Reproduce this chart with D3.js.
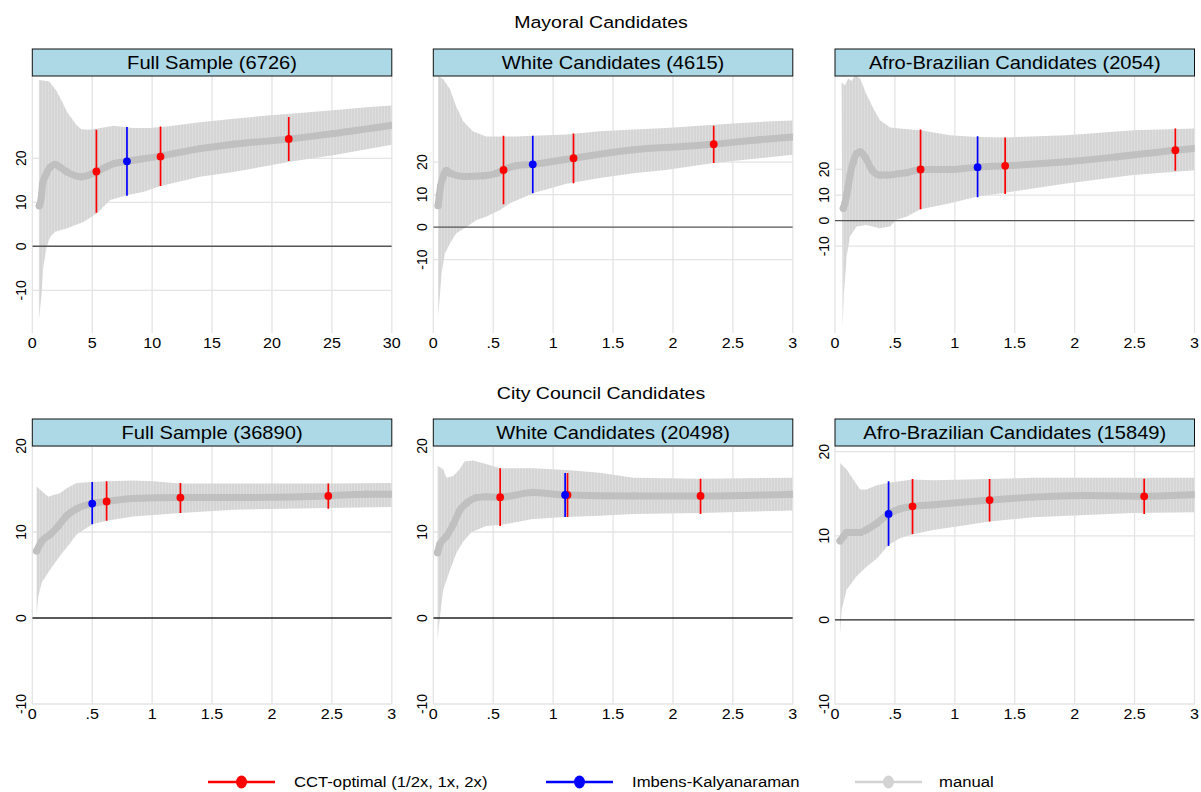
<!DOCTYPE html>
<html>
<head>
<meta charset="utf-8">
<script src="https://cdn.jsdelivr.net/npm/d3@7"></script>
<style>
body{margin:0;background:#fff}
svg{display:block;font-family:"Liberation Sans",Arial,sans-serif}
</style>
</head>
<body>
<svg id="mainsvg" width="1201" height="792"></svg>
<script>
// ---- data (bandwidth, value) ----
const rowTitles = ['Mayoral Candidates', 'City Council Candidates']
const stripTitles = [
  'Full Sample (6726)', 'White Candidates (4615)', 'Afro-Brazilian Candidates (2054)',
  'Full Sample (36890)', 'White Candidates (20498)', 'Afro-Brazilian Candidates (15849)'
]
const xTicksWide = [0, 5, 10, 15, 20, 25, 30]
const xTicksNarrow = [0, 0.5, 1, 1.5, 2, 2.5, 3]
const yTicks = [-10, 0, 10, 20]
const legendLabels = ['CCT-optimal (1/2x, 1x, 2x)', 'Imbens-Kalyanaraman', 'manual']

// mayoral, full sample
const mayorFullEst = [[0.58,9.2],[0.78,11.8],[0.86,14.3],[1.06,15.8],[1.5,18],[1.9,18.6],[2.3,18],[2.9,16.9],[4.1,15.8],[5.4,17],[6.8,18.8],[7.9,19.3],[10.7,20.5],[14,22.2],[16.8,23.2],[21.5,24.4],[25.1,25.6],[30,27.5]]
const mayorFullHi = [[0.55,37.8],[1.4,37.5],[2.0,35.4],[2.45,33.1],[2.9,30.5],[3.7,27.5],[4.1,26.6],[4.8,26.5],[6.2,27.1],[6.8,27.4],[8.4,26.9],[9.8,26.9],[11.2,27.2],[14,28.2],[16.8,29],[19.6,29.7],[22.3,30.3],[25.1,30.9],[27.9,31.6],[30,32]]
const mayorFullLo = [[0.55,-17],[0.78,-10.6],[0.92,-4.6],[1.2,-0.1],[1.5,2.2],[1.9,3.3],[2.9,4.1],[4.3,5.6],[5.4,7.5],[6.5,10.5],[7.9,11.6],[9.3,12.4],[10.7,13.7],[14,15.8],[16.8,16.9],[21.5,19.2],[25.1,20.7],[30,23.1]]
const mayorFullCCT = [[5.35,17,7.6,26.5],[10.7,20.4,13.7,27.2],[21.4,24.4,19.4,29.4]]
const mayorFullIK = [[7.9,19.3,11.5,27.1]]

// mayoral, white
const mayorWhiteEst = [[0.04,6.6],[0.05,9.7],[0.06,12.5],[0.083,15.6],[0.11,17.4],[0.14,16.6],[0.25,15.6],[0.42,15.8],[0.53,16.6],[0.586,17.6],[0.69,18.9],[0.83,19.3],[1.17,21.2],[1.67,23.8],[2.08,24.8],[2.34,25.5],[2.72,26.9],[3.0,27.7]]
const mayorWhiteHi = [[0.04,46.5],[0.083,45.5],[0.14,42.4],[0.19,37.2],[0.25,32.6],[0.33,29.5],[0.44,27.9],[0.69,27.9],[0.83,28.1],[1.11,28.5],[1.39,29.5],[1.67,30],[1.94,30.5],[2.22,31.2],[2.5,31.9],[2.78,32.5],[3.0,32.8]]
const mayorWhiteLo = [[0.04,-27.7],[0.056,-20.5],[0.069,-14.3],[0.097,-8.1],[0.14,-5],[0.19,-2],[0.28,0.1],[0.36,2.2],[0.44,3.2],[0.56,5.3],[0.64,7.3],[0.78,9.6],[0.83,10.4],[1.11,13.3],[1.39,15.1],[1.67,16.6],[1.94,17.6],[2.34,19.7],[3.0,22.3]]
const mayorWhiteCCT = [[0.586,17.6,7.0,28.1],[1.17,21.2,13.5,28.8],[2.34,25.5,19.7,31.2]]
const mayorWhiteIK = [[0.83,19.3,10.4,28.1]]

// mayoral, afro-brazilian
const mayorAfroEst = [[0.069,4.8],[0.083,6.8],[0.097,10],[0.11,13.2],[0.125,17.8],[0.153,23],[0.18,26.2],[0.21,26.9],[0.25,24.9],[0.31,19.7],[0.375,17.8],[0.43,17.8],[0.54,18.4],[0.6,18.7],[0.714,20],[0.96,20],[1.19,20.9],[1.42,21.4],[1.93,23],[2.35,24.9],[2.84,27.5],[3.0,28.2]]
const mayorAfroHi = [[0.055,54],[0.083,52.9],[0.11,55.5],[0.14,54.5],[0.167,56.8],[0.21,55.5],[0.26,49.6],[0.32,43.8],[0.375,39.2],[0.46,36.4],[0.54,36],[0.714,35.3],[0.96,33.4],[1.19,32.7],[1.42,32.5],[1.93,33.4],[2.49,35.3],[3.0,36]]
const mayorAfroLo = [[0.064,-41.3],[0.075,-28.3],[0.097,-14],[0.125,-6.2],[0.18,-2.3],[0.26,-1.7],[0.375,-3],[0.46,-2.3],[0.51,0.3],[0.6,1.6],[0.714,4.4],[0.96,6.8],[1.19,9.4],[1.42,10.9],[1.93,14.5],[2.49,17.8],[3.0,19.7]]
const mayorAfroCCT = [[0.714,20,4.4,35.6],[1.42,21.4,10.4,32.5],[2.84,27.5,19.5,36]]
const mayorAfroIK = [[1.19,20.9,9.1,33]]

// city council, full sample
const councilFullEst = [[0.036,7.8],[0.078,8.9],[0.148,9.7],[0.217,10.7],[0.287,11.9],[0.37,12.7],[0.5,13.3],[0.62,13.55],[0.84,13.9],[1.236,14],[1.68,14],[2.47,14.2],[2.79,14.4],[3.0,14.4]]
const councilFullHi = [[0.036,15.3],[0.092,14.6],[0.134,14.1],[0.175,14.3],[0.23,14.5],[0.287,15.1],[0.37,15.7],[0.5,15.8],[0.62,15.9],[0.84,16],[1.01,15.9],[1.236,15.65],[1.68,15.65],[2.47,15.65],[3.0,15.7]]
const councilFullLo = [[0.036,0.4],[0.05,2.5],[0.078,4.1],[0.148,5.6],[0.23,7.2],[0.315,8.7],[0.37,9.7],[0.5,10.9],[0.62,11.3],[0.84,11.8],[1.236,12.2],[1.68,12.6],[2.47,12.8],[3.0,12.9]]
const councilFullCCT = [[0.62,13.55,11.3,15.9],[1.236,14,12.2,15.7],[2.47,14.2,12.7,15.65]]
const councilFullIK = [[0.5,13.3,10.9,15.8]]

// city council, white
const councilWhiteEst = [[0.036,7.6],[0.056,8.6],[0.11,9.5],[0.167,10.9],[0.22,12.5],[0.28,13.4],[0.36,14],[0.44,14.1],[0.558,14.05],[0.83,14.6],[1.1,14.3],[1.67,14.2],[2.23,14.2],[3.0,14.4]]
const councilWhiteHi = [[0.036,17.7],[0.083,17.3],[0.11,16.3],[0.167,16.5],[0.22,17.3],[0.26,18.2],[0.33,18.3],[0.44,17.9],[0.558,17.4],[0.83,17.4],[1.11,17.2],[1.39,16.9],[1.67,16.3],[2.23,16.2],[3.0,16.3]]
const councilWhiteLo = [[0.036,-2.5],[0.056,0.2],[0.083,3.3],[0.14,5.6],[0.194,7.6],[0.25,8.9],[0.32,10],[0.44,10.7],[0.558,10.8],[0.83,11.5],[1.11,11.75],[1.39,11.9],[1.67,12.1],[2.23,12.2],[3.0,12.5]]
const councilWhiteCCT = [[0.558,14.05,10.7,17.4],[1.12,14.3,11.75,16.85],[2.23,14.2,12.1,16.2]]
const councilWhiteIK = [[1.10,14.3,11.75,16.85]]

// city council, afro-brazilian
const councilAfroEst = [[0.042,9.4],[0.07,9.9],[0.097,10.4],[0.21,10.4],[0.26,10.7],[0.35,11.5],[0.447,12.6],[0.54,13.2],[0.647,13.5],[0.82,13.7],[1.29,14.25],[1.65,14.6],[2.07,14.8],[2.58,14.7],[3.0,14.9]]
const councilAfroHi = [[0.042,18.65],[0.097,17.9],[0.153,16.7],[0.21,15.5],[0.26,15.5],[0.35,16],[0.447,16.3],[0.647,16.7],[0.82,16.6],[1.1,16.7],[1.65,16.9],[2.49,16.9],[3.0,16.9]]
const councilAfroLo = [[0.042,-1.8],[0.056,1.2],[0.097,3.6],[0.18,5.2],[0.26,6.3],[0.35,7.3],[0.447,8.9],[0.54,9.7],[0.647,10.2],[0.82,10.7],[1.1,11.3],[1.29,11.7],[1.65,12.2],[2.49,12.7],[3.0,12.8]]
const councilAfroCCT = [[0.647,13.5,10.2,16.75],[1.29,14.25,11.7,16.75],[2.58,14.7,12.6,16.8]]
const councilAfroIK = [[0.447,12.6,8.8,16.5]]

// ---- layout ----
const colLeft = [32.3, 433.3, 835]
const plotW = 359.5
const stripTop = [49, 419]
const plotTop = [76, 446]
const plotBottom = [333, 704]
const sx = 1.15   // the source text is a little wide
const red = '#ff0000', blue = '#0000ff', bandCol = '#d5d5d5', estCol = '#c0c0c0'

const panels = [
  {r:0, c:0, xTicks:xTicksWide, xMax:30, yDom:[-19.7,38.7], est:mayorFullEst, hi:mayorFullHi, lo:mayorFullLo, cct:mayorFullCCT, ik:mayorFullIK},
  {r:0, c:1, xTicks:xTicksNarrow, xMax:3, yDom:[-32.6,46.5], est:mayorWhiteEst, hi:mayorWhiteHi, lo:mayorWhiteLo, cct:mayorWhiteCCT, ik:mayorWhiteIK},
  {r:0, c:2, xTicks:xTicksNarrow, xMax:3, yDom:[-43.9,56.5], est:mayorAfroEst, hi:mayorAfroHi, lo:mayorAfroLo, cct:mayorAfroCCT, ik:mayorAfroIK},
  {r:1, c:0, xTicks:xTicksNarrow, xMax:3, yDom:[-10,20], est:councilFullEst, hi:councilFullHi, lo:councilFullLo, cct:councilFullCCT, ik:councilFullIK},
  {r:1, c:1, xTicks:xTicksNarrow, xMax:3, yDom:[-10,20], est:councilWhiteEst, hi:councilWhiteHi, lo:councilWhiteLo, cct:councilWhiteCCT, ik:councilWhiteIK},
  {r:1, c:2, xTicks:xTicksNarrow, xMax:3, yDom:[-10,20.68], est:councilAfroEst, hi:councilAfroHi, lo:councilAfroLo, cct:councilAfroCCT, ik:councilAfroIK}
]

const svg = d3.select('#mainsvg')
const defs = svg.append('defs')

// striped fill for the CI band (many thin vertical spikes in the original)
const pat = defs.append('pattern').attr('id','stripes').attr('patternUnits','userSpaceOnUse')
  .attr('width',3).attr('height',10)
pat.append('rect').attr('width',3).attr('height',10).attr('fill',bandCol)
pat.append('rect').attr('width',1).attr('height',10).attr('fill','#dedede')

function hText(g, x, y, str, size, anchor){
  return g.append('text')
    .attr('transform',`translate(${x},${y}) scale(${sx},1)`)
    .attr('text-anchor',anchor || 'middle')
    .attr('font-size',size)
    .attr('fill','#000')
    .text(str)
}

// row titles
rowTitles.forEach((t,i) => hText(svg, 601, i === 0 ? 28 : 399, t, '17px'))

function tickLabel(v){
  if(v === 0) return '0'
  let s = String(v)
  return s.startsWith('0.') ? s.slice(1) : s
}

panels.forEach((p,i) => {
  let x0 = colLeft[p.c], y0 = plotTop[p.r], y1 = plotBottom[p.r]
  let x = d3.scaleLinear().domain([0,p.xMax]).range([x0, x0 + plotW])
  let y = d3.scaleLinear().domain(p.yDom).range([y1, y0])

  const g = svg.append('g').attr('id',`glyph${i}`)
  defs.append('clipPath').attr('id',`clip${i}`)
    .append('rect').attr('x',x0).attr('y',y0).attr('width',plotW).attr('height',y1 - y0)

  // grid
  g.selectAll('.vg').data(p.xTicks).join('line')
    .attr('x1',d => x(d)).attr('x2',d => x(d)).attr('y1',y0).attr('y2',y1)
    .attr('stroke','#e4e4e4').attr('stroke-width',1.3)
  g.selectAll('.hg').data(yTicks.filter(d => d !== 0)).join('line')
    .attr('x1',x0).attr('x2',x0 + plotW).attr('y1',d => y(d)).attr('y2',d => y(d))
    .attr('stroke','#e4e4e4').attr('stroke-width',1.3)

  const inner = g.append('g').attr('clip-path',`url(#clip${i})`)

  // CI band of the manual bandwidths
  let line = d3.line().x(d => x(d[0])).y(d => y(d[1]))
  let poly = p.hi.concat(p.lo.slice().reverse())
  inner.append('path').attr('d', line(poly) + 'Z').attr('fill','url(#stripes)')

  // zero line
  inner.append('line').attr('x1',x0).attr('x2',x0 + plotW).attr('y1',y(0)).attr('y2',y(0))
    .attr('stroke', p.r === 0 ? '#555' : '#222').attr('stroke-width',1.4)

  // manual estimates
  inner.append('path').attr('d', d3.line().x(d => x(d[0])).y(d => y(d[1])).curve(d3.curveMonotoneX)(p.est))
    .attr('fill','none').attr('stroke',estCol).attr('stroke-width',7)
    .attr('stroke-linecap','round').attr('stroke-linejoin','round')
  inner.selectAll('.ed').data(p.est).join('circle')
    .attr('cx',d => x(d[0])).attr('cy',d => y(d[1])).attr('r',3.6).attr('fill',estCol)

  // CCT and IK estimates with CIs
  ;[[p.cct, red],[p.ik, blue]].forEach(([arr, col]) => {
    inner.selectAll(null).data(arr).join('line')
      .attr('x1',d => x(d[0])).attr('x2',d => x(d[0]))
      .attr('y1',d => y(d[2])).attr('y2',d => y(d[3]))
      .attr('stroke',col).attr('stroke-width',1.7)
    inner.selectAll(null).data(arr).join('circle')
      .attr('cx',d => x(d[0])).attr('cy',d => y(d[1])).attr('r',3.9).attr('fill',col)
  })

  // strip
  let st = stripTop[p.r]
  g.append('rect').attr('x',x0).attr('y',st).attr('width',plotW).attr('height',y0 - st)
    .attr('fill','#add8e6').attr('stroke','#111').attr('stroke-width',1)
  hText(g, x0 + plotW / 2, st + 20, stripTitles[i], '17.5px')

  // x tick labels
  p.xTicks.forEach(t => hText(g, x(t), y1 + 15, tickLabel(t), '14px'))
  // y tick labels, rotated
  g.selectAll('.yl').data(yTicks).join('text')
    .attr('transform',d => `translate(${x0 - 6},${y(d)}) rotate(-90)`)
    .attr('text-anchor','middle').attr('font-size','14px').attr('fill','#000')
    .text(d => d)
})

// legend
const legendX = [208, 546, 855]
const legendCols = [red, blue, '#d3d3d3']
const ly = 782
legendLabels.forEach((lab,i) => {
  let lx = legendX[i]
  svg.append('line').attr('x1',lx).attr('x2',lx + 67).attr('y1',ly).attr('y2',ly)
    .attr('stroke',legendCols[i]).attr('stroke-width',2.5)
  svg.append('ellipse').attr('cx',lx + 33.5).attr('cy',ly).attr('rx',5.5).attr('ry',6.5)
    .attr('fill',legendCols[i])
  hText(svg, lx + (i === 2 ? 84 : 86), ly + 5, lab, '14.5px', 'start')
})
</script>
</body>
</html>
